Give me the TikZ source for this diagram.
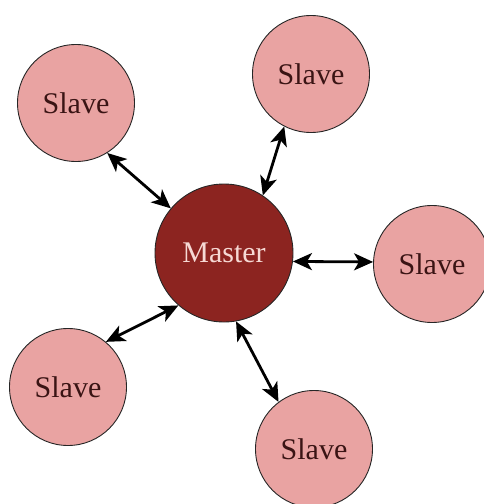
\documentclass[tikz,border=0pt]{standalone}
\usepackage{fontspec}
\setmainfont{Liberation Serif}
\usetikzlibrary{arrows.meta}
\definecolor{SlavePink}{HTML}{E9A3A2}
\definecolor{MasterRed}{HTML}{8C2420}
\definecolor{SlaveText}{HTML}{3A1414}
\definecolor{MasterText}{HTML}{F6D9D4}
\tikzset{
    % round nodes, thin dark outline
    slavenode/.style={
        circle,
        draw=black!85,
        fill=SlavePink,
        line width=0.9pt,
        minimum size=117pt,
        inner sep=0pt,
        text=SlaveText,
        font=\fontsize{30}{36}\selectfont
    },
    masternode/.style={
        circle,
        draw=black!85,
        fill=MasterRed,
        line width=0.9pt,
        minimum size=138pt,
        inner sep=0pt,
        text=MasterText,
        font=\fontsize{30}{36}\selectfont
    },
    linkarrow/.style={
        {Stealth[length=19pt,width=17pt,inset=5pt]}-{Stealth[length=19pt,width=17pt,inset=5pt]},
        line width=2.8pt,
        draw=black
    }
}
\begin{document}
\begin{tikzpicture}[x=1pt,y=-1pt]
    \useasboundingbox (0,0) rectangle (483,504);
    \node[masternode] (master) at (224,253) {Master};
    \node[slavenode] (slavetl) at (76,103) {Slave};
    \node[slavenode] (slavetr) at (311,74) {Slave};
    \node[slavenode] (slaver) at (432,264) {Slave};
    \node[slavenode] (slavebl) at (68,387) {Slave};
    \node[slavenode] (slaveb) at (314,449) {Slave};

    \draw[linkarrow] (slavetl.-58) -- (master.140);
    \draw[linkarrow] (slavetr.-117) -- (master.56);
    \draw[linkarrow] (master.-7) -- (slaver.178);
    \draw[linkarrow] (slavebl.50) -- (master.-131);
    \draw[linkarrow] (master.-80) -- (slaveb.127);
\end{tikzpicture}
\end{document}
